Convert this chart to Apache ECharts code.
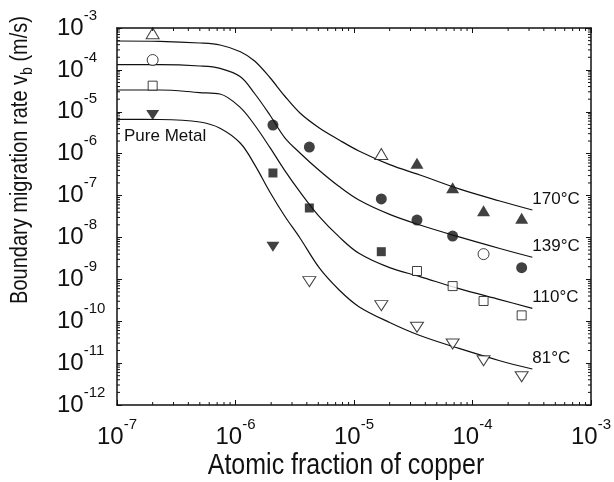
<!DOCTYPE html>
<html>
<head>
<meta charset="utf-8">
<script src="https://cdn.jsdelivr.net/npm/echarts@6/dist/echarts.min.js"></script>
<style>
html,body{margin:0;padding:0;background:#fff;}
#chart{width:614px;height:482px;}
</style>
</head>
<body>
<div id="chart"></div>
<script>
// ---------- data ----------
const curveX   = [1e-7, 2.3e-7, 5e-7, 7.4e-7, 1.1e-6, 1.45e-6, 1.95e-6, 2.6e-6, 3.5e-6, 5.1e-6, 7.5e-6, 1.1e-5, 2e-5, 3.6e-5, 7.7e-5, 1.7e-4, 3.2e-4];
const curve170 = [4.90e-4, 4.81e-4, 4.39e-4, 3.93e-4, 2.72e-4, 1.63e-4, 6.58e-5, 2.38e-5, 9.35e-6, 4.10e-6, 2.12e-6, 1.16e-6, 5.48e-7, 3.10e-7, 1.44e-7, 7.41e-8, 4.52e-8];
const curve139 = [1.33e-4, 1.33e-4, 1.24e-4, 1.09e-4, 6.87e-5, 2.73e-5, 8.38e-6, 2.43e-6, 1.04e-6, 3.96e-7, 1.64e-7, 7.83e-8, 3.55e-8, 1.98e-8, 1.03e-8, 5.45e-9, 3.36e-9];
const curve110 = [3.31e-5, 3.31e-5, 2.88e-5, 2.66e-5, 1.26e-5, 4.83e-6, 1.41e-6, 3.99e-7, 1.22e-7, 3.13e-8, 1.03e-8, 4.19e-9, 1.90e-9, 1.16e-9, 5.98e-10, 3.28e-10, 2.03e-10];
const curve81  = [6.61e-6, 6.54e-6, 5.70e-6, 4.04e-6, 1.77e-6, 5.48e-7, 1.22e-7, 3.25e-8, 9.70e-9, 1.87e-9, 5.57e-10, 2.23e-10, 9.33e-11, 4.56e-11, 2.24e-11, 1.14e-11, 7.24e-12];

const open170   = [[2e-7, 7.5e-4], [1.7e-5, 9.8e-7]];
const filled170 = [[3.4e-5, 5.9e-7], [6.8e-5, 1.54e-7], [1.24e-4, 4.35e-8], [2.6e-4, 2.87e-8]];
const open139   = [[2e-7, 1.72e-4], [1.24e-4, 4.0e-9]];
const filled139 = [[2.07e-6, 4.83e-6], [4.2e-6, 1.44e-6], [1.7e-5, 8.3e-8], [3.4e-5, 2.6e-8], [6.8e-5, 1.08e-8], [2.6e-4, 1.9e-9]];
const open110   = [[2e-7, 4.2e-5], [3.4e-5, 1.58e-9], [6.8e-5, 6.9e-10], [1.24e-4, 3.04e-10], [2.6e-4, 1.38e-10]];
const filled110 = [[2.07e-6, 3.46e-7], [4.2e-6, 5.05e-8], [1.7e-5, 4.57e-9]];
const filled81  = [[2e-7, 8.4e-6], [2.07e-6, 6.0e-9]];
const open81    = [[4.2e-6, 8.8e-10], [1.7e-5, 2.35e-10], [3.4e-5, 7.2e-11], [6.8e-5, 2.86e-11], [1.24e-4, 1.14e-11], [2.6e-4, 4.74e-12]];

const curveLabels = ['170°C', '139°C', '110°C', '81°C'];
const xTitle = 'Atomic fraction of copper';
const yTitle = 'Boundary migration rate v{sub|b} (m/s)';
const annotation = 'Pure Metal';

const xMin = 1e-7, xMax = 1e-3, yMin = 1e-12, yMax = 1e-3;

// ---------- styling ----------
const FONT = "'Liberation Sans', Arial, sans-serif";
const INK = '#111';

function pairs(ys) { return curveX.map((x, i) => [x, ys[i]]); }
function expLabel(v) { return '{b|10}{s|' + Math.round(Math.log10(v)) + '}'; }
const richLabel = {
  b: { fontSize: 24, fontFamily: FONT, color: INK, lineHeight: 40, verticalAlign: 'middle' },
  s: { fontSize: 15, fontFamily: FONT, color: INK, lineHeight: 15, verticalAlign: 'top' }
};

const minorX = [], minorY = [];
for (let e = -7; e < -3; e++) for (let k = 2; k <= 9; k++) minorX.push([k * Math.pow(10, e), yMin]);
for (let e = -12; e < -3; e++) for (let k = 2; k <= 9; k++) minorY.push([xMin, k * Math.pow(10, e)]);

const axisLineStyle = { show: true, onZero: false, lineStyle: { color: INK, width: 1.5 } };
const tickStyle = { show: true, inside: true, length: 5, lineStyle: { color: INK, width: 1 } };

function lineSeries(ys, label) {
  return {
    type: 'line', data: pairs(ys), smooth: 0.35, showSymbol: false, symbol: 'none',
    lineStyle: { color: INK, width: 1.2 }, z: 2, silent: true,
    endLabel: { show: true, formatter: label, color: INK, fontSize: 17, fontFamily: FONT, offset: [-8, -11] }
  };
}
function scatter(data, symbol, size, filled, rotate) {
  return {
    type: 'scatter', data: data, symbol: symbol, symbolSize: size, symbolRotate: rotate || 0, z: 3,
    itemStyle: filled ? { color: INK, borderColor: INK, borderWidth: 0 } : { color: '#fff', borderColor: INK, borderWidth: 1 }
  };
}
function minorTicks(isX) {
  return {
    type: 'custom', data: isX ? minorX : minorY, z: 4, silent: true, clip: false,
    renderItem: function (params, api) {
      const v = isX ? api.value(0) : api.value(1);
      let a, b, shapes;
      if (isX) {
        a = api.coord([v, yMin]); b = api.coord([v, yMax]);
        shapes = [{ x1: a[0], y1: a[1], x2: a[0], y2: a[1] - 3 }, { x1: b[0], y1: b[1], x2: b[0], y2: b[1] + 3 }];
      } else {
        a = api.coord([xMin, v]); b = api.coord([xMax, v]);
        shapes = [{ x1: a[0], y1: a[1], x2: a[0] + 3, y2: a[1] }, { x1: b[0], y1: b[1], x2: b[0] - 3, y2: b[1] }];
      }
      return { type: 'group', children: shapes.map(s => ({ type: 'line', shape: s, style: { stroke: INK, lineWidth: 1 } })) };
    }
  };
}

const chart = echarts.init(document.getElementById('chart'), null, { renderer: 'canvas' });
chart.setOption({
  animation: false,
  backgroundColor: '#fff',
  grid: { left: 117, right: 22, top: 28, bottom: 77 },
  xAxis: [
    { type: 'log', logBase: 10, min: xMin, max: xMax, splitNumber: 4, position: 'bottom',
      axisLine: axisLineStyle, axisTick: tickStyle, splitLine: { show: false }, minorTick: { show: false },
      axisLabel: { show: true, margin: 12, formatter: expLabel, rich: richLabel, showMinLabel: true, showMaxLabel: true, hideOverlap: false } },
    { type: 'log', logBase: 10, min: xMin, max: xMax, splitNumber: 4, position: 'top',
      axisLine: axisLineStyle, axisTick: tickStyle, splitLine: { show: false }, axisLabel: { show: false } }
  ],
  yAxis: [
    { type: 'log', logBase: 10, min: yMin, max: yMax, splitNumber: 9, position: 'left',
      axisLine: axisLineStyle, axisTick: tickStyle, splitLine: { show: false }, minorTick: { show: false },
      axisLabel: { show: true, margin: 60, align: 'left', formatter: expLabel, rich: richLabel, showMinLabel: true, showMaxLabel: true, hideOverlap: false } },
    { type: 'log', logBase: 10, min: yMin, max: yMax, splitNumber: 9, position: 'right',
      axisLine: axisLineStyle, axisTick: tickStyle, splitLine: { show: false }, axisLabel: { show: false } }
  ],
  series: [
    lineSeries(curve170, curveLabels[0]),
    lineSeries(curve139, curveLabels[1]),
    lineSeries(curve110, curveLabels[2]),
    lineSeries(curve81, curveLabels[3]),
    scatter(open170, 'triangle', [13, 11], false),
    scatter(filled170, 'triangle', [13, 11], true),
    scatter(open139, 'circle', 11, false),
    scatter(filled139, 'circle', 11, true),
    scatter(open110, 'rect', 9, false),
    scatter(filled110, 'rect', 9, true),
    scatter(filled81, 'triangle', [13, 10], true, 180),
    scatter(open81, 'triangle', [13, 10], false, 180),
    minorTicks(true),
    minorTicks(false)
  ],
  graphic: [
    { type: 'text', left: 124, top: 128, style: { text: annotation, fontSize: 17, fontFamily: FONT, fill: INK } },
    { type: 'text', x: 346, y: 466, scaleY: 1.15, style: { text: xTitle, fontSize: 25, fontFamily: FONT, fill: INK, align: 'center', verticalAlign: 'middle' } },
    { type: 'text', x: 21, y: 160, rotation: Math.PI / 2, scaleY: 1.15,
      style: { text: yTitle, fontSize: 20, lineHeight: 26, fontFamily: FONT, fill: INK, align: 'center', verticalAlign: 'middle',
        rich: { sub: { fontSize: 14, fontFamily: FONT, fill: INK, lineHeight: 14, verticalAlign: 'bottom' } } } }
  ]
});
</script>
</body>
</html>
